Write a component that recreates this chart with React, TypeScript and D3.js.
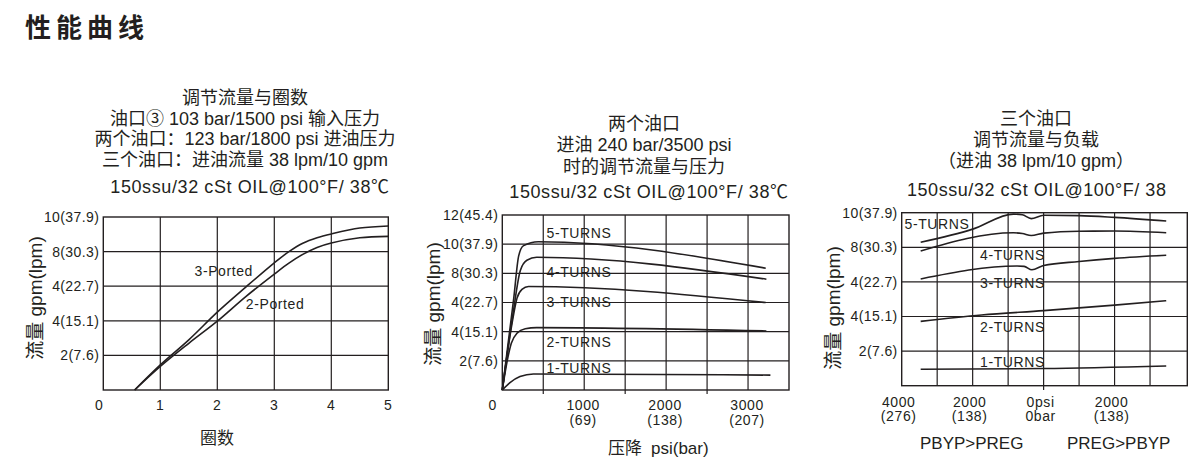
import React from 'react';
import * as d3 from 'd3';

const FONT = '"Liberation Sans", Arial, "Noto Sans CJK SC", sans-serif';
const CJK = '"Noto Sans CJK SC", "Liberation Sans", sans-serif';
const INK = '#231f20';

type Pt = [number, number];

// ---------- Chart 1: flow vs turns ----------
const turnTicks = [0, 1, 2, 3, 4, 5];
const flowGrid10 = [2, 4, 6, 8];
const flowTicks10 = [2, 4, 6, 8, 10];
const flowLabels10 = ['2(7.6)', '4(15.1)', '4(22.7)', '8(30.3)', '10(37.9)'];
const ported3: Pt[] = [[0.55, 0], [1, 1.45], [1.5, 2.9], [2, 4.5], [2.5, 5.95], [3, 7.35], [3.25, 7.98], [3.5, 8.48], [3.75, 8.8], [4, 9.02], [4.5, 9.36], [5, 9.48]];
const ported2: Pt[] = [[0.55, 0], [1, 1.36], [1.5, 2.7], [2, 3.98], [2.5, 5.4], [3, 6.7], [3.25, 7.32], [3.5, 7.84], [3.75, 8.24], [4, 8.5], [4.5, 8.8], [5, 8.88]];
const chart1Titles = ['调节流量与圈数', '油口③ 103 bar/1500 psi 输入压力', '两个油口：123 bar/1800 psi 进油压力', '三个油口：进油流量 38 lpm/10 gpm'];
const oilNote = '150ssu/32 cSt OIL@100°F/ 38℃';

// ---------- Chart 2: flow vs pressure drop ----------
const psiGrid = [500, 1000, 1500, 2000, 2500, 3000];
const psiMinor = [500, 1500, 2500];
const psiTicks = [0, 1000, 2000, 3000];
const psiLabels = ['0', '1000', '2000', '3000'];
const barLabels = ['', '(69)', '(138)', '(207)'];
const flowGrid12 = [2, 4, 6, 8, 10];
const flowTicks12 = [2, 4, 6, 8, 10, 12];
const flowLabels12 = ['2(7.6)', '4(15.1)', '4(22.7)', '8(30.3)', '10(37.9)', '12(45.4)'];
const dropTurns1: Pt[] = [[0, 0], [94, 0.5], [216, 0.92], [380, 1.1], [3273, 1.02]];
const dropTurns2: Pt[] = [[0, 0], [60, 2.0], [110, 3.2], [180, 3.9], [280, 4.2], [420, 4.28], [3224, 4.05]];
const dropTurns3: Pt[] = [[0, 0], [120, 4.6], [180, 6.3], [240, 6.9], [320, 7.1], [3216, 6.0]];
const dropTurns4: Pt[] = [[0, 0], [130, 5.2], [220, 8.2], [300, 8.9], [420, 9.1], [3224, 7.6]];
const dropTurns5: Pt[] = [[0, 0], [140, 6.3], [200, 9.2], [260, 9.9], [440, 10.17], [3216, 8.35]];
const dropLabels = ['1-TURNS', '2-TURNS', '3-TURNS', '4-TURNS', '5-TURNS'];
const dropLabelY = [1.53, 3.31, 6.06, 8.11, 10.79];
const chart2Titles = ['两个油口', '进油 240 bar/3500 psi', '时的调节流量与压力'];

// ---------- Chart 3: flow vs load ----------
const loadGrid = [-3000, -2000, -1000, 0, 1000, 2000, 3000];
const loadTicks = [-4000, -2000, 0, 2000];
const loadPsiLabels = ['4000', '2000', '0psi', '2000'];
const loadBarLabels = ['(276)', '(138)', '0bar', '(138)'];
const loadTurns1: Pt[] = [[-3465, 0.95], [0, 0.99], [3456, 1.14]];
const loadTurns2: Pt[] = [[-3465, 3.72], [-1750, 4.09], [0, 4.34], [2000, 4.66], [3456, 4.91]];
const loadTurns3: Pt[] = [[-3465, 6.17], [-750, 6.92], [-550, 6.9], [-330, 6.7], [0, 6.95], [1000, 7.18], [2000, 7.36], [3456, 7.54]];
const loadTurns4: Pt[] = [[-3465, 7.79], [-850, 8.84], [-600, 8.8], [-350, 8.68], [0, 8.82], [1000, 8.93], [2000, 8.94], [3456, 8.84]];
const loadTurns5: Pt[] = [[-3465, 8.29], [-2000, 9.05], [-850, 9.92], [-600, 9.88], [-350, 9.66], [0, 9.85], [1000, 9.83], [2000, 9.73], [3456, 9.52]];
const loadLabels = ['1-TURNS', '2-TURNS', '3-TURNS', '4-TURNS', '5-TURNS'];
const loadLabelY = [1.35, 3.41, 5.95, 7.55, 9.35];
const chart3Titles = ['三个油口', '调节流量与负载', '（进油 38 lpm/10 gpm）'];
const oilNoteCut = '150ssu/32 cSt OIL@100°F/ 38';

type PanelProps = {
  xs: d3.ScaleLinear<number, number>;
  ys: d3.ScaleLinear<number, number>;
  xGrid: number[];
  yGrid: number[];
  yTicks: number[];
  yLabels: string[];
  series: Pt[][];
  curve: d3.CurveFactory;
};

function Panel({ xs, ys, xGrid, yGrid, yTicks, yLabels, series, curve }: PanelProps) {
  const [x0, x1] = xs.range();
  const [yb, yt] = ys.range();
  const line = d3.line<Pt>().x(d => xs(d[0])).y(d => ys(d[1])).curve(curve);
  return (
    <g>
      {xGrid.map(v => (
        <line key={'xg' + v} x1={xs(v)} x2={xs(v)} y1={yt} y2={yb} stroke={INK} strokeWidth={1.2} />
      ))}
      {yGrid.map(v => (
        <line key={'yg' + v} x1={x0} x2={x1} y1={ys(v)} y2={ys(v)} stroke={INK} strokeWidth={1.2} />
      ))}
      <rect x={x0} y={yt} width={x1 - x0} height={yb - yt} fill="none" stroke={INK} strokeWidth={1.4} />
      {yTicks.map((v, i) => (
        <text key={'yt' + v} x={x0 - 4} y={ys(v)} dy="0.35em" textAnchor="end" fontSize={14} letterSpacing={0.4} fill={INK}>
          {yLabels[i]}
        </text>
      ))}
      {series.map((s, i) => (
        <path key={'s' + i} d={line(s) || ''} fill="none" stroke={INK} strokeWidth={1.6} />
      ))}
    </g>
  );
}

function YTitle({ x, y }: { x: number; y: number }) {
  return (
    <text transform={`translate(${x},${y}) rotate(-90)`} textAnchor="middle" dy="0.35em" fontSize={19} fill={INK}>
      <tspan fontFamily={CJK} fill={INK}>流量</tspan> gpm(lpm)
    </text>
  );
}

export default function App() {
  // Chart 1 scales
  const x1 = d3.scaleLinear().domain([0, 5]).range([103.3, 388.3]);
  const y1 = d3.scaleLinear().domain([0, 10]).range([390, 217]);
  // Chart 2 scales
  const x2 = d3.scaleLinear().domain([0, 3500]).range([502.3, 789]);
  const y2 = d3.scaleLinear().domain([0, 12]).range([390, 215]);
  // Chart 3 scales
  const x3 = d3.scaleLinear().domain([-4000, 4050]).range([901.7, 1187.3]);
  const y3 = d3.scaleLinear().domain([0, 10]).range([385.7, 212.7]);

  const small = { fontSize: 14, letterSpacing: 0.6, fill: INK };

  return (
    <svg
      width={1200}
      height={466}
      style={{ position: 'absolute', left: 0, top: 0, background: '#fff' }}
      fontFamily={FONT}
    >
      <rect width={1200} height={466} fill="#fff" />
      <text x={25} y={37} fontSize={26} fontWeight="bold" letterSpacing={5} fontFamily={CJK} fill={INK}>
        性能曲线
      </text>

      {/* Chart 1 */}
      {chart1Titles.map((t, i) => (
        <text key={'t1' + i} x={245} y={104 + i * 20.6} textAnchor="middle" fontSize={18} fill={INK}>{t}</text>
      ))}
      <text x={250} y={193} textAnchor="middle" fontSize={18} letterSpacing={0.6} fill={INK}>{oilNote}</text>
      <Panel xs={x1} ys={y1} xGrid={[1, 2, 3, 4]} yGrid={flowGrid10} yTicks={flowTicks10} yLabels={flowLabels10}
        series={[ported3, ported2]} curve={d3.curveCatmullRom} />
      {turnTicks.map(v => (
        <text key={'xt1' + v} x={v === 0 ? x1(v) - 4 : x1(v)} y={410} textAnchor="middle" {...small}>{v}</text>
      ))}
      <text x={x1(1.6)} y={y1(6.85)} dy="0.35em" {...small}>3-Ported</text>
      <text x={x1(2.5)} y={y1(4.95)} dy="0.35em" {...small}>2-Ported</text>
      <text x={217} y={444} textAnchor="middle" fontSize={17} fontFamily={CJK} fill={INK}>圈数</text>
      <YTitle x={35} y={298} />

      {/* Chart 2 */}
      {chart2Titles.map((t, i) => (
        <text key={'t2' + i} x={644} y={129.5 + i * 21.6} textAnchor="middle" fontSize={18} fill={INK}>{t}</text>
      ))}
      <text x={649} y={198} textAnchor="middle" fontSize={18} letterSpacing={0.6} fill={INK}>{oilNote}</text>
      <Panel xs={x2} ys={y2} xGrid={psiGrid} yGrid={flowGrid12} yTicks={flowTicks12} yLabels={flowLabels12}
        series={[dropTurns1, dropTurns2, dropTurns3, dropTurns4, dropTurns5]} curve={d3.curveMonotoneX} />
      {psiMinor.map(v => (
        <line key={'mn' + v} x1={x2(v)} x2={x2(v)} y1={390} y2={394} stroke={INK} strokeWidth={1.2} />
      ))}
      {psiTicks.map((v, i) => (
        <g key={'xt2' + v}>
          <text x={v === 0 ? x2(v) - 9.5 : x2(v) - 1} y={410} textAnchor="middle" {...small}>{psiLabels[i]}</text>
          <text x={x2(v) - 1} y={424.5} textAnchor="middle" {...small}>{barLabels[i]}</text>
        </g>
      ))}
      {dropLabels.map((t, i) => (
        <text key={'dl' + i} x={546.5} y={y2(dropLabelY[i])} dy="0.35em" {...small}>{t}</text>
      ))}
      <text x={608} y={454} fontSize={17} fill={INK}>
        <tspan fontFamily={CJK} fill={INK}>压降</tspan>
        <tspan dx={9}>psi(bar)</tspan>
      </text>
      <YTitle x={433} y={304} />

      {/* Chart 3 */}
      {chart3Titles.map((t, i) => (
        <text key={'t3' + i} x={1036} y={124.5 + i * 21.3} textAnchor="middle" fontSize={18} fill={INK}>{t}</text>
      ))}
      <text x={907} y={196} fontSize={18} letterSpacing={0.55} fill={INK}>{oilNoteCut}</text>
      <Panel xs={x3} ys={y3} xGrid={loadGrid} yGrid={flowGrid10} yTicks={flowTicks10} yLabels={flowLabels10}
        series={[loadTurns1, loadTurns2, loadTurns3, loadTurns4, loadTurns5]} curve={d3.curveMonotoneX} />
      <line x1={x3(0)} x2={x3(0)} y1={385.7} y2={390} stroke={INK} strokeWidth={1.2} />
      {loadTicks.map((v, i) => (
        <g key={'xt3' + v}>
          <text x={x3(v) - 3} y={406.5} textAnchor="middle" {...small}>{loadPsiLabels[i]}</text>
          <text x={x3(v) - 3} y={420.5} textAnchor="middle" {...small}>{loadBarLabels[i]}</text>
        </g>
      ))}
      {loadLabels.map((t, i) => (
        <text key={'ll' + i} x={i === 4 ? 904.5 : 980} y={y3(loadLabelY[i])} dy="0.35em" {...small}>{t}</text>
      ))}
      <text x={971.7} y={449} textAnchor="middle" fontSize={17} fill={INK}>PBYP&gt;PREG</text>
      <text x={1118.7} y={449} textAnchor="middle" fontSize={17} fill={INK}>PREG&gt;PBYP</text>
      <YTitle x={833} y={308} />
    </svg>
  );
}
